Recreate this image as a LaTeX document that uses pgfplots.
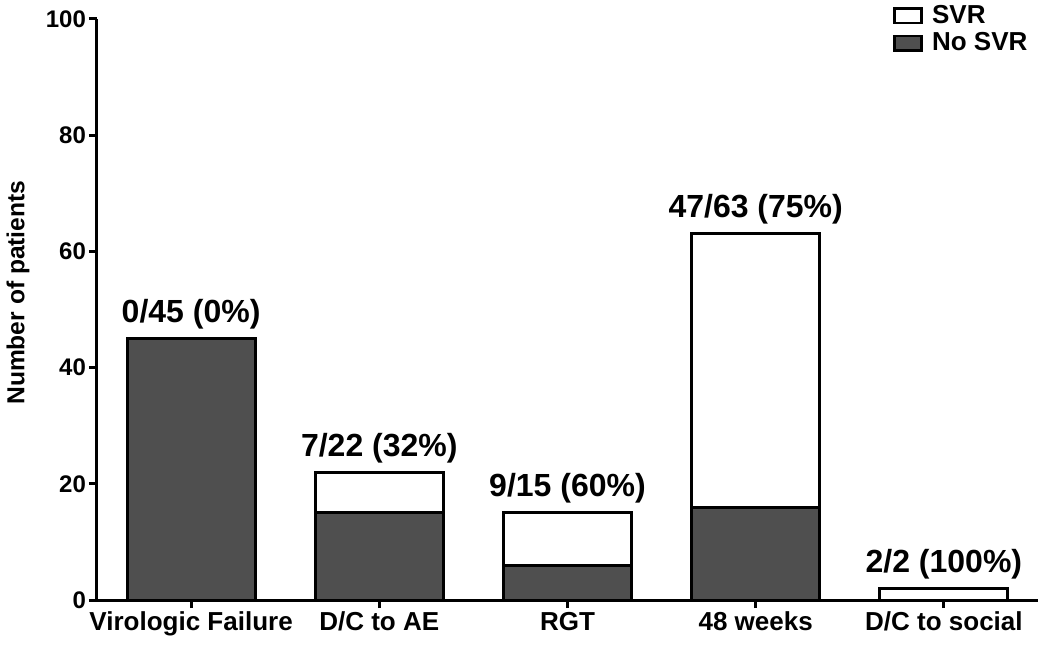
\documentclass[border=0pt]{standalone}
\usepackage{pgfplots}
\pgfplotsset{compat=1.18}
\usepackage{fontspec}
\setmainfont{Liberation Sans}
\begin{document}
\begin{tikzpicture}
\path[use as bounding box] (-48.5pt,-24.5pt) rectangle (476.5pt,300pt);
\begin{axis}[
  at={(0pt,0pt)}, anchor=south west,
  scale only axis, width=470.5pt, height=290.5pt,
  ybar stacked, bar width=64pt,
  stacked ignores zero=false,
  xmin=-0.5, xmax=4.5, ymin=0, ymax=100,
  axis lines*=left,
  axis line style={line width=1.5pt},
  xtick={0,1,2,3,4},
  xticklabels={Virologic Failure, D/C to AE, RGT, 48 weeks, D/C to social},
  ytick={0,20,40,60,80,100},
  tick style={black, line width=1.5pt},
  tick align=outside, major tick length=4pt,
  /pgf/number format/assume math mode=true,
  yticklabel style={font=\bfseries\fontsize{12}{14}\selectfont, xshift=2pt},
  xticklabel style={font=\bfseries\fontsize{13}{15}\selectfont, yshift=1.5pt},
  ylabel={Number of patients},
  ylabel style={font=\bfseries\fontsize{12.3}{14}\selectfont, at={(axis description cs:-0.084,0.529)}, anchor=center},
  legend style={at={(axis description cs:0.846,1)}, anchor=north west, yshift=9pt,
    draw=none, fill=none, inner sep=0pt, row sep=-1pt,
    font=\bfseries\fontsize{13}{14}\selectfont,
    /tikz/every odd column/.append style={column sep=2.5pt}},
  legend cell align=left,
  reverse legend,
  legend image code/.code={\draw[#1, line width=1.3pt] (0pt,-3.6pt) rectangle (13.5pt,3.6pt);},
]
\addplot[fill=black!69, draw=black, line width=1.5pt] coordinates {(0,45) (1,15) (2,6) (3,16) (4,0)};
\addlegendentry{No SVR}
\addplot[fill=white, draw=black, line width=1.5pt] coordinates {(0,0) (1,7) (2,9) (3,47) (4,2)};
\addlegendentry{SVR}
\addplot[draw=none, fill=none, forget plot,
  point meta=explicit symbolic,
  nodes near coords,
  nodes near coords style={text=black, font=\bfseries\fontsize{16}{18}\selectfont, anchor=base, inner sep=0pt, yshift=8pt}
] coordinates {(0,0) [0/45 (0\%)] (1,0) [7/22 (32\%)] (2,0) [9/15 (60\%)] (3,0) [47/63 (75\%)] (4,0) [2/2 (100\%)]};
\end{axis}
\end{tikzpicture}
\end{document}
